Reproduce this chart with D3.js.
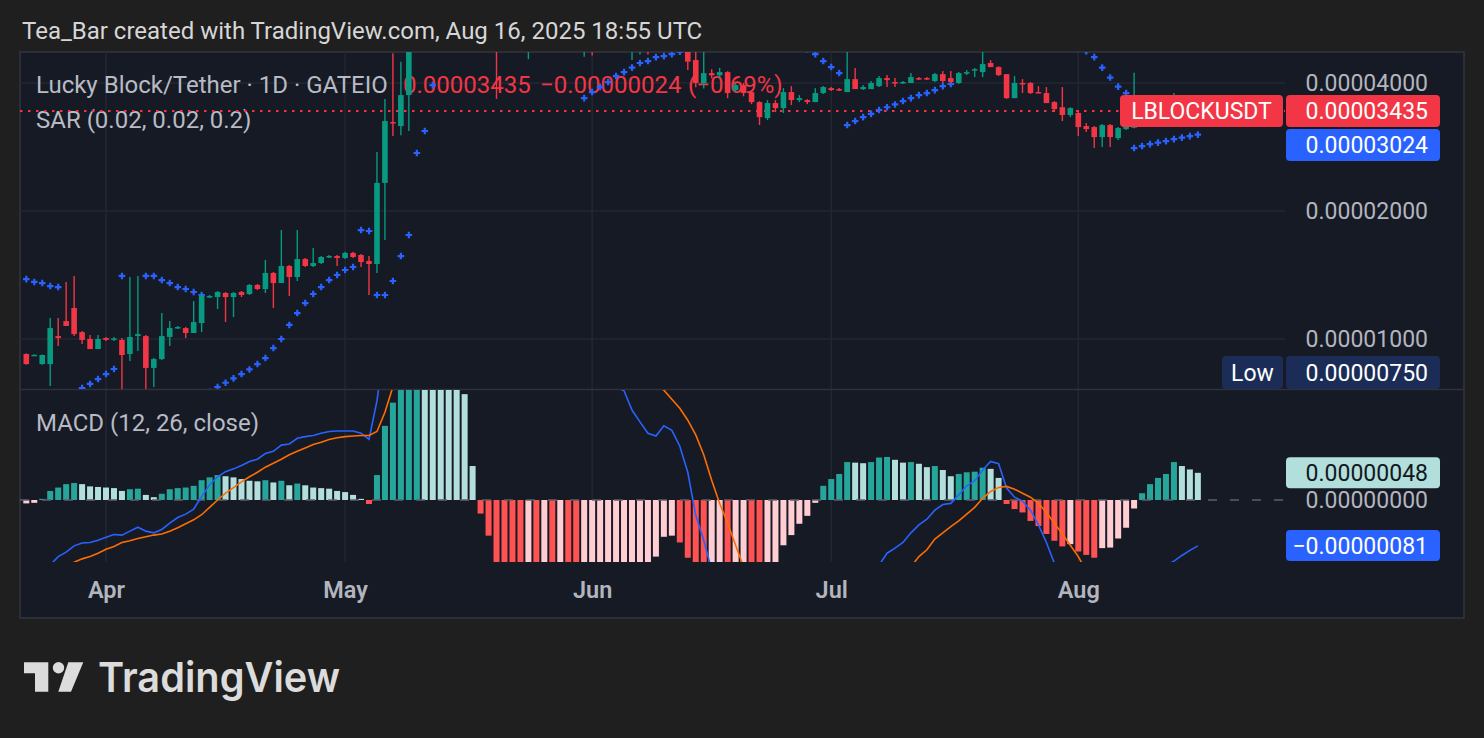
<!DOCTYPE html>
<html>
<head>
<meta charset="utf-8">
<script src="https://cdn.jsdelivr.net/npm/d3@7"></script>
<style>
html, body { margin: 0; padding: 0; background: #1f1f1f; }
svg { display: block; font-family: Roboto, "Noto Sans", sans-serif; }
</style>
</head>
<body>
<svg id="chart" width="1484" height="738"></svg>
<script>
// daily candles, first day 2025-03-22, prices in units of 0.00000001 USDT
var firstDay = Date.UTC(2025, 2, 22);

var open = [
  922, 915, 873, 873, 1016, 1102, 1183, 1038, 1000, 947,
  1005, 995, 995, 922, 1016, 1016, 855, 897, 1011, 1061,
  1061, 1033, 1090, 1255, 1255, 1283, 1255, 1290, 1276, 1340,
  1311, 1430, 1354, 1485, 1399, 1542, 1485, 1509, 1559, 1567,
  1551, 1594, 1576, 1526, 1501, 2329, 3238, 3168, 3747, 5000,
  5600, 6200, 5900, 6500, 6300, 6000, 5800, 5400, 5100, 5200,
  4850, 5000, 5300, 5000, 5200, 5400, 5600, 5500, 5700, 5500,
  5300, 5600, 5400, 5600, 5800, 5700, 5300, 5500, 5600, 5400,
  5500, 5300, 5100, 4900, 4530, 4000, 4220, 4170, 4243, 3849,
  3955, 3808, 3607, 3307, 3588, 3491, 3808, 3647, 3647, 3607,
  3788, 3891, 3870, 3808, 4085, 3870, 3870, 3933, 4108, 4021,
  4000, 4000, 4108, 4108, 4043, 4197, 4108, 4000, 4221, 4289,
  4243, 4457, 4360, 4197, 3685, 4000, 4000, 3808, 3788, 3607,
  3508, 3363, 3401, 3168, 3151, 2984, 3185, 2968, 3117, 3140,
  3560, 3480, 3600, 3520, 3580, 3650, 3540, 3459
];
var high = [
  925, 920, 919, 1120, 1120, 1362, 1407, 1044, 1022, 1022,
  1011, 1011, 1005, 1399, 1407, 1022, 902, 1151, 1102, 1073,
  1067, 1228, 1283, 1269, 1297, 1290, 1290, 1297, 1347, 1347,
  1534, 1438, 1804, 1493, 1804, 1550, 1637, 1567, 1576, 1576,
  1603, 1603, 1585, 1567, 2753, 3666, 4702, 4485, 5300, 6100,
  6900, 6700, 7200, 7000, 6600, 6300, 6000, 5700, 5600, 5500,
  5300, 5600, 5800, 5500, 5700, 5900, 5900, 6000, 5900, 5700,
  5900, 5800, 5900, 6100, 6000, 5900, 5700, 5800, 5800, 5700,
  5700, 5500, 5300, 5000, 4900, 4800, 4310, 4340, 4266, 3998,
  4000, 3829, 3626, 3647, 3647, 3891, 3933, 3746, 3666, 3891,
  3933, 3913, 3891, 5000, 4336, 3955, 4043, 4153, 4175, 4108,
  4043, 4221, 4130, 4130, 4221, 4266, 4266, 4243, 4289, 4336,
  5400, 4528, 4380, 4197, 4153, 4085, 4021, 3933, 3913, 3626,
  3913, 3508, 3456, 3221, 3168, 3203, 3203, 3151, 3240, 4230,
  3640, 3680, 3700, 3660, 3790, 3700, 3600, 3560
];
var low = [
  870, 912, 870, 775, 963, 1073, 1016, 973, 947, 947,
  989, 989, 755, 888, 937, 750, 771, 893, 963, 1055,
  1005, 1033, 1038, 1248, 1176, 1096, 1126, 1255, 1269, 1304,
  1283, 1183, 1354, 1262, 1369, 1477, 1477, 1501, 1551, 1485,
  1542, 1551, 1477, 1269, 1430, 1709, 3000, 3016, 3084, 4850,
  5400, 5500, 5700, 5800, 5600, 5300, 5100, 4900, 4850, 3670,
  4780, 4900, 5100, 4550, 5000, 5200, 5300, 5300, 5200, 4950,
  4610, 4640, 5100, 5400, 5400, 5100, 4530, 4670, 4670, 5000,
  4950, 4850, 4800, 4290, 3910, 3880, 4100, 4100, 3685, 3808,
  3722, 3568, 3185, 3274, 3419, 3401, 3549, 3607, 3568, 3607,
  3767, 3829, 3829, 3808, 3870, 3849, 3870, 3913, 3913, 3913,
  3978, 4000, 4063, 4063, 4021, 4000, 4000, 3978, 4175, 4130,
  4130, 4360, 4153, 3670, 3685, 3788, 3767, 3788, 3588, 3419,
  3255, 3325, 3000, 3067, 2812, 2828, 2828, 2936, 3101, 3130,
  3400, 3420, 3440, 3450, 3520, 3470, 3400, 3380
];
var close = [
  873, 918, 917, 1061, 1005, 1073, 1027, 995, 947, 1000,
  995, 1003, 917, 1011, 1027, 855, 897, 1016, 1061, 1067,
  1033, 1096, 1262, 1262, 1290, 1255, 1283, 1269, 1340, 1311,
  1430, 1354, 1485, 1399, 1542, 1485, 1509, 1559, 1567, 1551,
  1594, 1559, 1517, 1501, 2329, 3255, 3221, 3747, 5000, 5600,
  6200, 5900, 6500, 6300, 6000, 5800, 5400, 5100, 5200, 4850,
  5000, 5300, 5500, 5200, 5400, 5600, 5500, 5700, 5500, 5300,
  5600, 5400, 5600, 5800, 5700, 5500, 5500, 5600, 5400, 5500,
  5300, 5100, 4900, 4490, 4000, 4220, 4170, 4243, 3788, 3955,
  3788, 3607, 3325, 3588, 3491, 3808, 3647, 3686, 3607, 3788,
  3913, 3849, 3849, 4085, 3870, 3913, 4000, 4108, 4063, 4000,
  4021, 4130, 4085, 4085, 4197, 4043, 4021, 4221, 4243, 4312,
  4433, 4360, 4175, 3685, 4000, 3978, 3788, 3788, 3588, 3473,
  3363, 3491, 3151, 3117, 2984, 3185, 2984, 3134, 3185, 3560,
  3480, 3600, 3520, 3580, 3650, 3540, 3459, 3435
];
// parabolic SAR (null = no dot shown)
var sar = [
  1383, 1362, 1354, 1332, 1325, 730, 748, 767, 784, 805,
  827, 850, 1407, null, null, 1407, 1407, 1376, 1354, 1325,
  1311, 1290, 1269, 750, 771, 789, 808, 827, 848, 873,
  902, 952, 1000, 1079, 1151, 1215, 1276, 1325, 1376, 1414,
  1453, 1477, 1804, 1795, 1269, 1269, 1369, 1567, 1756, 2738,
  3084, 3955, 4900, 5150, 5300, 5400, 7200, 7150, 7100, 7000,
  6900, 6800, 6700, 6600, 6500, 6400, 6300, 6200, 6100, 6000,
  3685, 3808, 3913, 4021, 4153, 4243, 4347, 4457, 4504, 4602,
  4626, 4676, 4740, 4780, 5400, 5350, 5300, 5250, 5200, 5150,
  5100, 5050, 5000, 4960, 4920, 4880, 4850, 4820, 4800, 4676,
  4504, 4360, 4221, 3185, 3255, 3325, 3384, 3456, 3508, 3562,
  3627, 3685, 3746, 3788, 3849, 3933, 3978, null, null, null,
  null, null, null, 5400, 5330, 5260, 5190, 5120, 5050, 4990,
  4930, 4870, 4810, 4750, 4602, 4347, 4119, 3923, 3788, 2812,
  2843, 2873, 2896, 2920, 2952, 2976, 3000, 3024
];
// MACD (12, 26, close), same units
var macdHist = [
  -6, -5, 2, 16, 22, 28, 30, 28, 24, 23,
  22, 21, 16, 19, 20, 9, 5, 11, 19, 21,
  22, 25, 35, 40, 44, 42, 40, 37, 34, 33,
  35, 31, 34, 26, 29, 26, 22, 21, 20, 16,
  14, 9, 2, -7, 44, 131, 172, 220, 260, 290,
  280, 265, 245, 225, 205, 187, 60, -24, -63, -115,
  -125, -135, -145, -140, -150, -145, -155, -150, -160, -165,
  -160, -155, -150, -145, -140, -135, -128, -120, -113, -100,
  -65, -63, -75, -102, -130, -150, -145, -140, -150, -145,
  -140, -150, -155, -140, -115, -80, -62, -42, -28, -5,
  25, 37, 46, 67, 66, 65, 67, 75, 76, 71,
  66, 67, 64, 58, 60, 53, 42, 46, 49, 50,
  57, 55, 39, -7, -16, -22, -37, -46, -60, -72,
  -82, -78, -91, -97, -102, -85, -84, -68, -49, -15,
  12, 28, 39, 46, 67, 60, 54, 48
];
var macdLine = [
  -140, -130, -122, -115, -100, -92, -81, -76, -75, -71,
  -66, -61, -62, -55, -48, -55, -58, -52, -41, -31,
  -25, -16, 6, 27, 41, 50, 55, 61, 68, 72,
  82, 86, 97, 99, 109, 112, 114, 118, 121, 122,
  122, 122, 118, 107, 175, 280, 360, 440, 510, 570,
  600, 610, 605, 595, 575, 550, 500, 450, 405, 370,
  345, 320, 300, 290, 275, 265, 252, 244, 232, 225,
  222, 218, 213, 207, 200, 193, 159, 138, 118, 113,
  131, 123, 95, 49, -27, -71, -124, -165, -210, -240,
  -265, -290, -310, -315, -305, -285, -270, -255, -240, -225,
  -200, -185, -170, -150, -140, -132, -122, -115, -94, -85,
  -75, -58, -44, -34, -18, -8, -6, 9, 25, 34,
  53, 68, 64, 21, 5, -2, -18, -44, -75, -112,
  -140, -160, -180, -195, -205, -200, -190, -175, -160, -145,
  -135, -128, -122, -115, -108, -98, -89, -81
];
var signalLine = [
  -140, -135, -130, -125, -120, -115, -110, -104, -100, -94,
  -87, -82, -75, -72, -68, -65, -62, -60, -55, -49,
  -42, -35, -26, -13, 0, 12, 22, 32, 41, 49,
  58, 65, 72, 80, 86, 92, 98, 102, 107, 110,
  112, 113, 114, 114, 121, 155, 200, 240, 290, 340,
  380, 420, 450, 470, 480, 485, 480, 470, 460, 445,
  430, 415, 400, 385, 370, 355, 340, 328, 315, 303,
  290, 278, 266, 255, 245, 236, 228, 220, 212, 204,
  194, 178, 162, 141, 115, 80, 35, -6, -41, -80,
  -118, -150, -180, -205, -225, -235, -240, -240, -240, -235,
  -225, -220, -215, -210, -205, -198, -188, -175, -162, -148,
  -134, -118, -100, -88, -69, -58, -47, -37, -25, -13,
  3, 15, 22, 24, 19, 12, 5, -6, -22, -41,
  -60, -80, -100, -125, -135, -145, -150, -153, -155, -155,
  -153, -150, -146, -142, -138, -135, -132, -129
];

var priceTicks = [1000, 2000, 4000];
var priceTickLabels = ['0.00001000', '0.00002000', '0.00004000'];
var monthTicks = ['2025-04-01', '2025-05-01', '2025-06-01', '2025-07-01', '2025-08-01'];
var lastPrice = 3435, lastSar = 3024, lowPrice = 750;

var n = open.length;
var days = d3.range(n).map(function(i) { return d3.utcDay.offset(new Date(firstDay), i); });
var monthDates = monthTicks.map(function(s) { return new Date(s + 'T00:00:00Z'); });

var svg = d3.select('#chart');
var plotL = 20, plotR = 1285, frameR = 1464;
var priceTop = 52, priceBot = 389, macdTop = 390, macdBot = 562, frameBot = 618;

var x = d3.scaleUtc().domain([monthDates[0], monthDates[4]]).range([106, 1078.3]);
var yP = d3.scaleLog().domain([1000, 4000]).range([339, 83]);
var yM = d3.scaleLinear().domain([0, 100]).range([500, 443.4]);

var green = '#089981', red = '#f23645', blue = '#2962ff';
var axisText = '#b2b5be', gridCol = '#232733';

svg.append('rect').attr('width', 1484).attr('height', 738).attr('fill', '#1f1f1f');
svg.append('text').attr('x', 22).attr('y', 39)
  .attr('fill', '#d6d6d6').style('font-size', '24px')
  .text('Tea_Bar created with TradingView.com, Aug 16, 2025 18:55 UTC');

svg.append('rect').attr('x', 20).attr('y', 52).attr('width', frameR - 20).attr('height', frameBot - 52)
  .attr('fill', '#161a25').attr('stroke', '#33363f').attr('stroke-width', 1.5);

var defs = svg.append('defs');
defs.append('clipPath').attr('id', 'clipP').append('rect')
  .attr('x', plotL).attr('y', priceTop).attr('width', plotR - plotL).attr('height', priceBot - priceTop);
defs.append('clipPath').attr('id', 'clipM').append('rect')
  .attr('x', plotL).attr('y', macdTop).attr('width', plotR - plotL).attr('height', macdBot - macdTop);

// grid
svg.append('g').selectAll('line').data(monthDates).enter().append('line')
  .attr('x1', function(d) { return x(d); }).attr('x2', function(d) { return x(d); })
  .attr('y1', priceTop).attr('y2', macdBot)
  .attr('stroke', gridCol).attr('stroke-width', 1.5);
svg.append('g').selectAll('line').data(priceTicks).enter().append('line')
  .attr('x1', plotL).attr('x2', plotR)
  .attr('y1', function(d) { return yP(d); }).attr('y2', function(d) { return yP(d); })
  .attr('stroke', gridCol).attr('stroke-width', 1.5);
svg.append('line').attr('x1', 20).attr('x2', frameR).attr('y1', 389.5).attr('y2', 389.5)
  .attr('stroke', '#2f323c').attr('stroke-width', 1.5);

// legend (drawn under the candles)
var leg = svg.append('g').style('font-size', '24px');
leg.append('text').attr('x', 36).attr('y', 93).attr('fill', '#b8bbc3').text('Lucky Block/Tether · 1D · GATEIO');
leg.append('text').attr('x', 403).attr('y', 93).attr('fill', red).text('0.00003435');
leg.append('text').attr('x', 540).attr('y', 93).attr('fill', red).text('−0.00000024');
leg.append('text').attr('x', 688).attr('y', 93).attr('fill', red).text('(−0.69%)');
leg.append('text').attr('x', 36).attr('y', 128).attr('fill', '#b8bbc3').text('SAR (0.02, 0.02, 0.2)');
leg.append('text').attr('x', 36).attr('y', 431).attr('fill', '#b8bbc3').text('MACD (12, 26, close)');

// price pane
var pg = svg.append('g').attr('clip-path', 'url(#clipP)');
pg.append('line').attr('x1', plotL).attr('x2', plotR)
  .attr('y1', yP(lastPrice)).attr('y2', yP(lastPrice))
  .attr('stroke', red).attr('stroke-width', 2).attr('stroke-dasharray', '2.5,5.5');

var idx = d3.range(n);
pg.append('g').selectAll('path').data(idx.filter(function(i) { return sar[i] != null; })).enter().append('path')
  .attr('d', d3.symbol().type(d3.symbolCross).size(24))
  .attr('transform', function(i) { return 'translate(' + x(days[i]) + ',' + yP(sar[i]) + ')'; })
  .attr('fill', blue);

var candle = pg.append('g').selectAll('g').data(idx).enter().append('g');
candle.append('line')
  .attr('x1', function(i) { return x(days[i]); }).attr('x2', function(i) { return x(days[i]); })
  .attr('y1', function(i) { return yP(high[i]); }).attr('y2', function(i) { return yP(low[i]); })
  .attr('stroke', function(i) { return close[i] >= open[i] ? green : red; })
  .attr('stroke-width', 1.4);
candle.append('rect')
  .attr('x', function(i) { return x(days[i]) - 2.8; }).attr('width', 5.6)
  .attr('y', function(i) { return yP(Math.max(open[i], close[i])); })
  .attr('height', function(i) { return Math.max(1.5, Math.abs(yP(open[i]) - yP(close[i]))); })
  .attr('fill', function(i) { return close[i] >= open[i] ? green : red; });

// MACD pane
var mg = svg.append('g').attr('clip-path', 'url(#clipM)');
function histColor(i) {
  var v = macdHist[i], p = i > 0 ? macdHist[i - 1] : v;
  if (v >= 0) return v > p ? '#26a69a' : '#b2dfdb';
  return v < p ? '#ff5252' : '#ffcdd2';
}
mg.append('g').selectAll('rect').data(idx).enter().append('rect')
  .attr('x', function(i) { return x(days[i]) - 3; }).attr('width', 6)
  .attr('y', function(i) { return Math.min(yM(0), yM(macdHist[i])); })
  .attr('height', function(i) { return Math.abs(yM(macdHist[i]) - yM(0)); })
  .attr('fill', histColor);
mg.append('line').attr('x1', plotL).attr('x2', plotR).attr('y1', yM(0)).attr('y2', yM(0))
  .attr('stroke', '#5d606b').attr('stroke-width', 1.5).attr('stroke-dasharray', '9,13');
var lineM = d3.line().x(function(i) { return x(days[i]); }).y(function(i) { return yM(macdLine[i]); });
var lineS = d3.line().x(function(i) { return x(days[i]); }).y(function(i) { return yM(signalLine[i]); });
mg.append('path').datum(idx).attr('d', lineM).attr('fill', 'none').attr('stroke', blue).attr('stroke-width', 1.6);
mg.append('path').datum(idx).attr('d', lineS).attr('fill', 'none').attr('stroke', '#ff6d00').attr('stroke-width', 1.6);

// time axis
var xAxis = d3.axisBottom(x).tickValues(monthDates).tickFormat(d3.utcFormat('%b')).tickSize(0);
var ax = svg.append('g').attr('transform', 'translate(0,' + 578 + ')').call(xAxis);
ax.select('.domain').remove();
ax.selectAll('text').attr('fill', axisText).style('font-size', '23.5px').style('font-weight', '600')
  .style('font-family', 'Roboto, sans-serif');

// price axis labels
var rx = 1428;
svg.append('g').selectAll('text').data(priceTicks).enter().append('text')
  .attr('x', rx).attr('y', function(d) { return yP(d) + 8; })
  .attr('text-anchor', 'end').attr('fill', axisText).style('font-size', '23px')
  .text(function(d, i) { return priceTickLabels[i]; });

function tag(x0, y0, w, h, fill, txt, tcol, anchorX, anchor) {
  svg.append('rect').attr('x', x0).attr('y', y0).attr('width', w).attr('height', h)
    .attr('rx', 4).attr('fill', fill);
  svg.append('text').attr('x', anchorX).attr('y', y0 + h / 2 + 8)
    .attr('text-anchor', anchor).attr('fill', tcol).style('font-size', '23px').text(txt);
}
var yLast = yP(lastPrice);
tag(1120, yLast - 16, 163, 32, red, 'LBLOCKUSDT', '#ffffff', 1201.5, 'middle');
tag(1286, yLast - 16, 154, 32, red, '0.00003435', '#ffffff', rx, 'end');
tag(1286, yLast + 18, 154, 32, blue, '0.00003024', '#ffffff', rx, 'end');
tag(1222, 356, 61, 33, '#1b2d57', 'Low', '#ffffff', 1252.5, 'middle');
tag(1286, 356, 154, 33, '#1b2d57', '0.00000750', '#ffffff', rx, 'end');
tag(1286, yM(48) - 15.5, 154, 31, '#b2dfdb', '0.00000048', '#131722', rx, 'end');
svg.append('text').attr('x', rx).attr('y', yM(0) + 8).attr('text-anchor', 'end')
  .attr('fill', axisText).style('font-size', '23px').text('0.00000000');
tag(1286, 530, 154, 31, blue, '−0.00000081', '#ffffff', rx, 'end');

// TradingView logo
var logo = svg.append('g').attr('fill', '#dcdcdc');
logo.append('path').attr('d', 'M24,662.3H48.3V691.7H35V673.3H24Z');
logo.append('circle').attr('cx', 58.5).attr('cy', 667.8).attr('r', 5.7);
logo.append('path').attr('d', 'M68.3,662.3H83.3L71,691.7H58.3Z');
logo.append('text').attr('x', 98).attr('y', 692).attr('fill', '#dcdcdc')
  .attr('textLength', 242).attr('lengthAdjust', 'spacingAndGlyphs')
  .style('font-family', 'Inter, Roboto, sans-serif').style('font-size', '41px').style('font-weight', '600')
  .text('TradingView');
</script>
</body>
</html>
